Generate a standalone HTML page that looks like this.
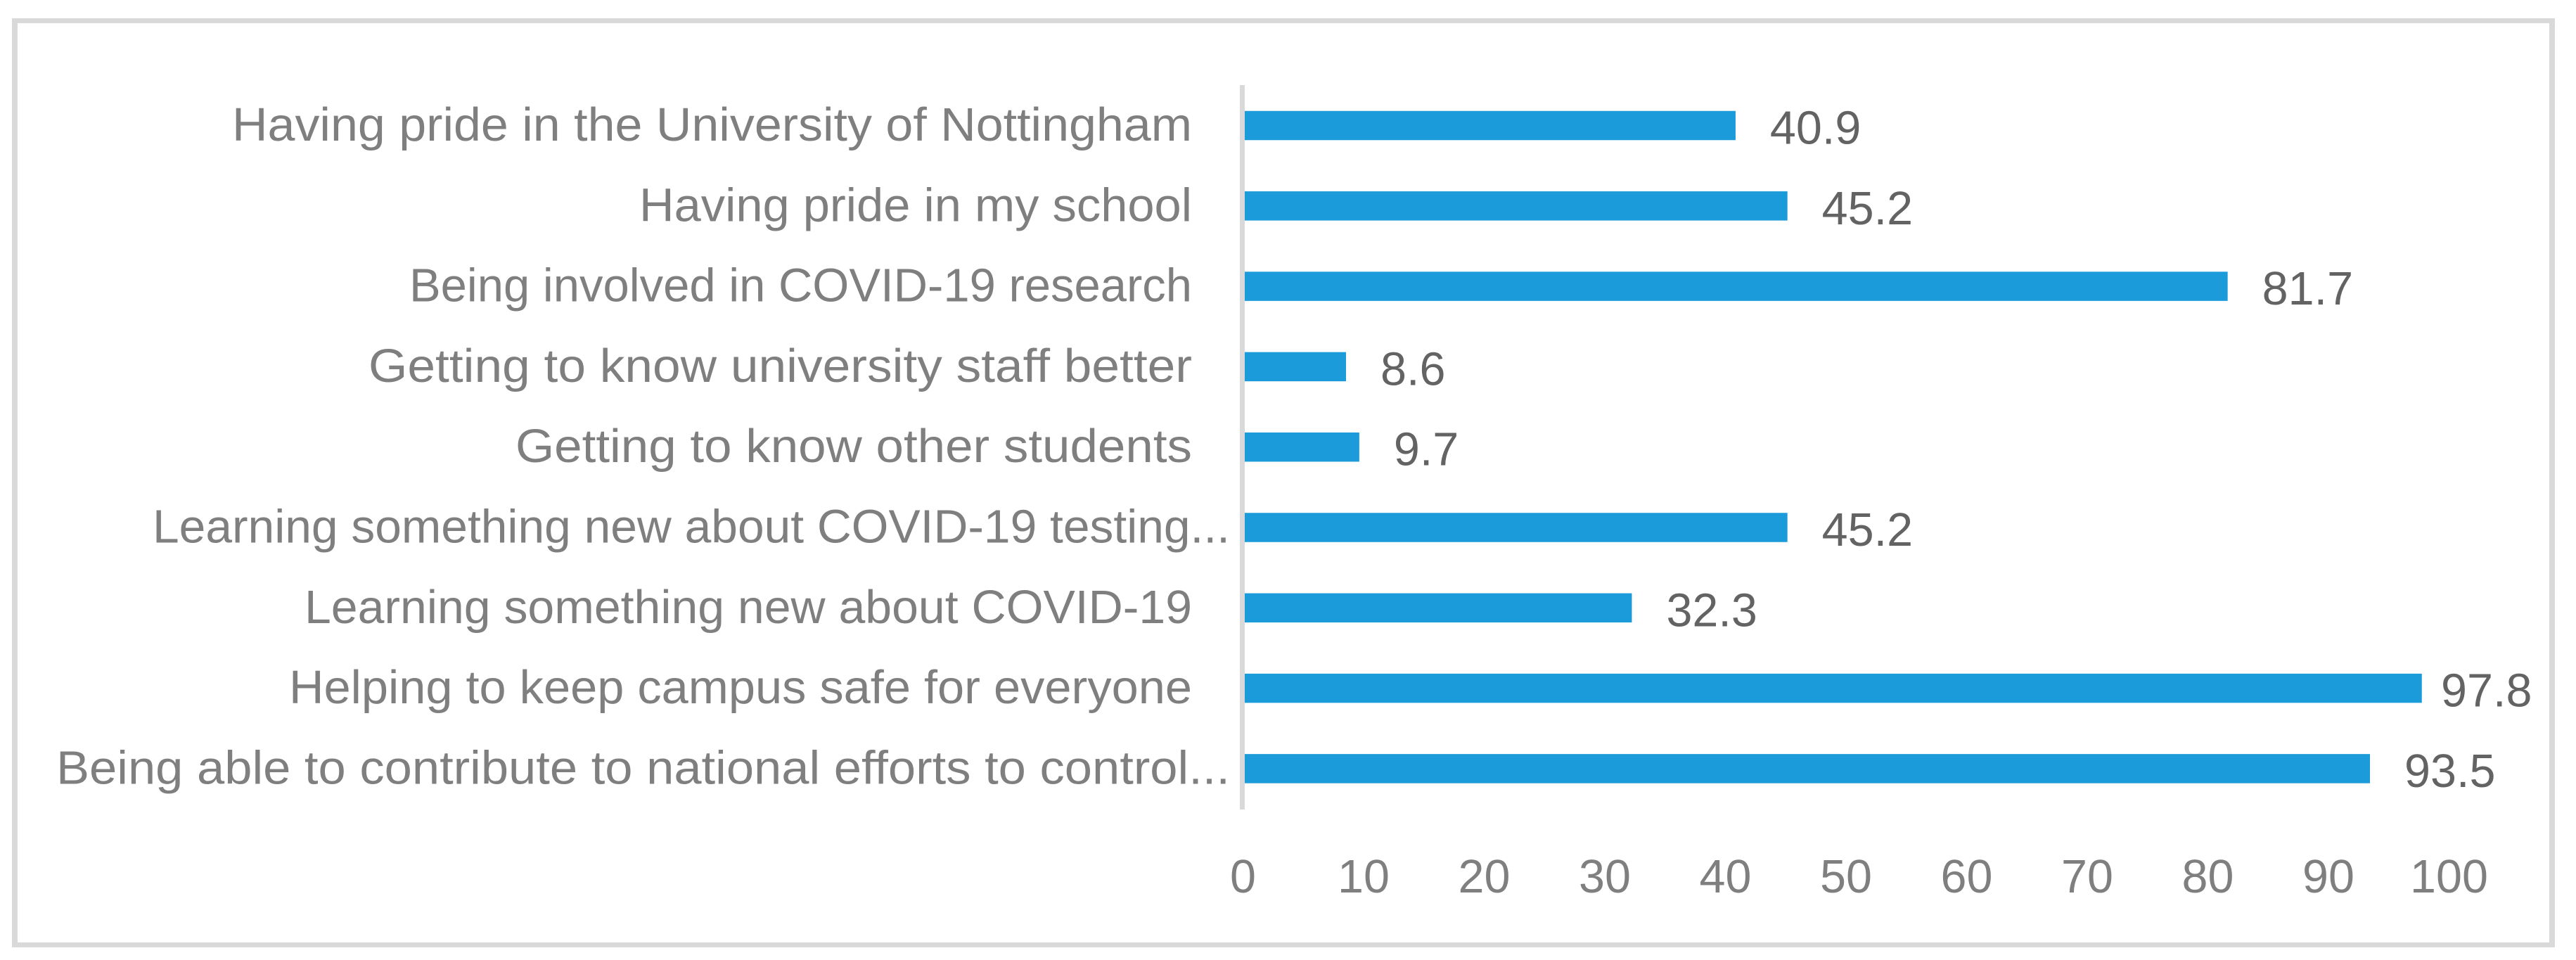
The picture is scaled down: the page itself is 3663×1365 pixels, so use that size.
<!DOCTYPE html>
<html lang="en">
<head>
<meta charset="utf-8">
<title>Motivations bar chart</title>
<style>
  html, body { margin: 0; padding: 0; background: #ffffff; width: 3663px; height: 1365px; overflow: hidden; }
  svg { display: block; }
  text { font-family: "Liberation Sans", sans-serif; }
</style>
</head>
<body>
<svg id="chart" xmlns="http://www.w3.org/2000/svg" width="3663" height="1365" viewBox="0 0 3663 1365">
  <rect x="0" y="0" width="3663" height="1365" fill="#ffffff"/>
  <path fill="#d9d9d9" fill-rule="evenodd" d="M17 26H3633V1347H17ZM25 33V1340H3625V33Z"/>
  <g id="bars"></g>
  <rect x="1763" y="121" width="7" height="1030" fill="#d9d9d9"/>
  <g id="cats"></g>
  <g id="vals"></g>
  <g id="ticks"></g>
</svg>
<script>
const categories = [
  "Having pride in the University of Nottingham",
  "Having pride in my school",
  "Being involved in COVID-19 research",
  "Getting to know university staff better",
  "Getting to know other students",
  "Learning something new about COVID-19 testing...",
  "Learning something new about COVID-19",
  "Helping to keep campus safe for everyone",
  "Being able to contribute to national efforts to control..."
];
const values = [40.9, 45.2, 81.7, 8.6, 9.7, 45.2, 32.3, 97.8, 93.5];
const tickValues = [0, 10, 20, 30, 40, 50, 60, 70, 80, 90, 100];

const NS = "http://www.w3.org/2000/svg";
const x = v => 1766.5 + 17.15 * v;
const bandCenter = i => 178.5 + 114.3 * i;
const BAR_H = 41.5;
const CAT_FONT = 67;
const NUM_FONT = 66.5;

// Layout only: rendered width of each category label, to mimic the narrower original typeface.
const categoryLabelFit = {
  "Having pride in the University of Nottingham": 1365,
  "Having pride in my school": 786,
  "Being involved in COVID-19 research": 1113,
  "Getting to know university staff better": 1171,
  "Getting to know other students": 962,
  "Learning something new about COVID-19 testing...": 1532,
  "Learning something new about COVID-19": 1262,
  "Helping to keep campus safe for everyone": 1284,
  "Being able to contribute to national efforts to control...": 1669
};

function slug(s) {
  return s.toLowerCase().replace(/[^a-z0-9]+/g, "-").replace(/^-|-$/g, "");
}

function makeText(parent, str, px, py, anchor, fill, size) {
  const t = document.createElementNS(NS, "text");
  t.setAttribute("x", px);
  t.setAttribute("y", py);
  t.setAttribute("text-anchor", anchor);
  t.setAttribute("fill", fill);
  t.setAttribute("font-size", size);
  t.textContent = str;
  parent.appendChild(t);
  return t;
}

const barsG = document.getElementById("bars");
const catsG = document.getElementById("cats");
const valsG = document.getElementById("vals");
const ticksG = document.getElementById("ticks");

categories.forEach((c, i) => {
  const r = document.createElementNS(NS, "rect");
  
  
  r.setAttribute("x", x(0));
  r.setAttribute("y", bandCenter(i) - BAR_H / 2);
  r.setAttribute("width", x(values[i]) - x(0));
  r.setAttribute("height", BAR_H);
  r.setAttribute("fill", "#1b9bd9");
  barsG.appendChild(r);

  const truncated = c.endsWith("...");
  const t = makeText(catsG, c, truncated ? 1749 : 1695, bandCenter(i) + 21.5, "end", "#7f7f7f", CAT_FONT);
  
  
  if (categoryLabelFit[c]) {
    t.setAttribute("textLength", categoryLabelFit[c]);
    t.setAttribute("lengthAdjust", "spacingAndGlyphs");
  }

  const labelX = Math.min(x(values[i]) + 49, 3471);
  const v = makeText(valsG, values[i].toFixed(1), labelX, bandCenter(i) + 26, "start", "#636363", NUM_FONT);
  
  
});

tickValues.forEach(tv => {
  const t = makeText(ticksG, String(tv), x(tv) + 1, 1269, "middle", "#7f7f7f", NUM_FONT);
  
  
});
</script>
</body>
</html>
